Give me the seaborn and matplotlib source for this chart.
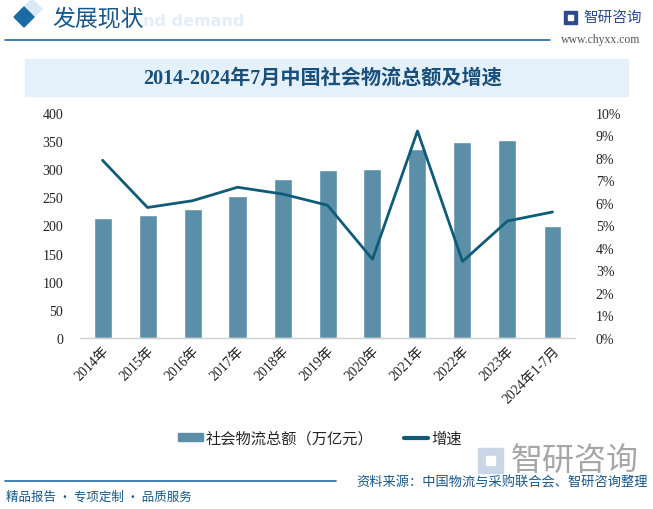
import numpy as np
import pandas as pd
import matplotlib
matplotlib.use("Agg")
import matplotlib.pyplot as plt
import matplotlib.patches as mpatches
from matplotlib.lines import Line2D
from matplotlib.ticker import FixedLocator, PercentFormatter
import seaborn as sns

# ---- data ----
categories = ["2014年", "2015年", "2016年", "2017年", "2018年", "2019年",
              "2020年", "2021年", "2022年", "2023年", "2024年1-7月"]
total_amount = [213.5, 219.2, 229.7, 252.8, 283.1, 298.0, 300.1, 335.2, 347.6, 352.4, 199.0]
growth_rate = [7.9, 5.8, 6.1, 6.7, 6.4, 5.9, 3.5, 9.2, 3.4, 5.2, 5.6]
left_ticks = [0, 50, 100, 150, 200, 250, 300, 350, 400]
right_ticks = [0, 1, 2, 3, 4, 5, 6, 7, 8, 9, 10]

title = "2014-2024年7月中国社会物流总额及增速"
bar_label = "社会物流总额（万亿元）"
line_label = "增速"

df = pd.DataFrame({"cat": categories, "amount": total_amount, "growth": growth_rate})

sns.set_theme(style="white")
CJK = ["Noto Sans CJK SC", "DejaVu Sans"]
SERIF = ["Liberation Serif", "Noto Sans CJK SC"]
plt.rcParams["font.family"] = CJK
plt.rcParams["axes.unicode_minus"] = False

BAR_C = "#5b8fa8"
LINE_C = "#0f5b78"

W, H = 653, 510
fig = plt.figure(figsize=(W / 100, H / 100), dpi=100)
fig.patch.set_facecolor("white")

def fx(px):
    return px / W

def fy(py):
    return 1 - py / H

# ---- header ----
fig.patches.append(mpatches.Polygon([[fx(14), fy(18)], [fx(24), fy(8)], [fx(34), fy(18)], [fx(24), fy(28)]],
                                    closed=True, transform=fig.transFigure, color="#1a6aa6", zorder=5))
fig.patches.append(mpatches.Polygon([[fx(24), fy(8)], [fx(34), fy(18)], [fx(42), fy(10)], [fx(32), fy(0)]],
                                    closed=True, transform=fig.transFigure, color="#dbe9f5", zorder=4))
fig.text(fx(143), fy(22), "nd demand", fontsize=11.5, color="#e3eef8", fontweight="bold",
         family="DejaVu Sans", va="center", ha="left", zorder=3)
fig.text(fx(52), fy(19), "发展现状", fontsize=16.5, color="#17578a", va="center", ha="left", zorder=6)
fig.add_artist(Line2D([fx(5), fx(550)], [fy(41), fy(41)], color="#1a6aa6", lw=1.2, transform=fig.transFigure))
# logo
fig.patches.append(mpatches.Rectangle((fx(564), fy(25)), fx(13), 13 / H, transform=fig.transFigure,
                                      color="#2b4a8c", zorder=5))
fig.patches.append(mpatches.Rectangle((fx(568), fy(21)), fx(5), 5 / H, transform=fig.transFigure,
                                      color="white", zorder=6))
fig.text(fx(583), fy(18), "智研咨询", fontsize=10.5, color="#2b4a8c", va="center", ha="left")
fig.text(fx(640), fy(40), "www.chyxx.com", fontsize=8.5, color="#555555", va="center", ha="right",
         family=["Liberation Serif"])

# ---- title box ----
fig.patches.append(mpatches.Rectangle((fx(25), fy(97)), fx(603), 37 / H, transform=fig.transFigure,
                                      color="#e4f1fa", zorder=0))
fig.text(fx(322), fy(79), title, fontsize=14.5, color="#1a4f7a", fontweight="bold",
         va="center", ha="center", family=SERIF)

# ---- axes ----
ax = fig.add_axes([fx(80), fy(339), fx(575) - fx(80), (339 - 114) / H])
ax.set_facecolor("none")
sns.barplot(data=df, x="cat", y="amount", color=BAR_C, width=0.4, ax=ax, saturation=1, zorder=2)
ax.set_ylim(0, 400)
ax.set_xlim(-0.5, len(categories) - 0.5)
ax.yaxis.set_major_locator(FixedLocator(left_ticks))
ax.set_xlabel("")
ax.set_ylabel("")
for s in ["top", "right", "left"]:
    ax.spines[s].set_visible(False)
ax.spines["bottom"].set_color("#d0d0d0")
ax.spines["bottom"].set_linewidth(1)
ax.tick_params(axis="y", length=0, pad=12, labelsize=10, labelcolor="#222222")
ax.tick_params(axis="x", which="major", length=0, pad=4)
ax.set_xticks(np.arange(-0.5, len(categories), 1), minor=True)
ax.tick_params(axis="x", which="minor", length=5, color="#d0d0d0", width=1)
for lab in ax.get_yticklabels():
    lab.set_family(SERIF)
ax.set_xticks(range(len(categories)))
ax.set_xticklabels(categories, rotation=45, ha="right", rotation_mode="anchor",
                   fontsize=10, color="#222222", family=SERIF)

ax2 = ax.twinx()
sns.lineplot(data=df, x="cat", y="growth", sort=False, color=LINE_C, linewidth=2.0, ax=ax2, zorder=3)
ax2.set_ylim(0, 10)
ax2.set_xlim(-0.5, len(categories) - 0.5)
ax2.yaxis.set_major_locator(FixedLocator(right_ticks))
ax2.yaxis.set_major_formatter(PercentFormatter(decimals=0))
ax2.set_ylabel("")
ax2.set_xlabel("")
for s in ["top", "right", "left", "bottom"]:
    ax2.spines[s].set_visible(False)
ax2.tick_params(axis="y", length=0, pad=15, labelsize=10, labelcolor="#222222")
for lab in ax2.get_yticklabels():
    lab.set_family(SERIF)

# ---- legend ----
handles = [mpatches.Patch(color=BAR_C, label=bar_label),
           Line2D([0], [0], color=LINE_C, lw=3, label=line_label)]
fig.legend(handles=handles, loc="center", bbox_to_anchor=(fx(320), fy(439)), ncol=2, frameon=False,
           fontsize=11, handlelength=1.6, handleheight=0.5, handletextpad=0.2, columnspacing=2.0)

# ---- footer ----
fig.text(fx(575), fy(461), "智研咨询", fontsize=23, color="#a6a6a6", va="center", ha="center")
fig.patches.append(mpatches.Rectangle((fx(478), fy(474)), fx(25), 25 / H, transform=fig.transFigure,
                                      color="#c9d6e6", zorder=1))
fig.patches.append(mpatches.Rectangle((fx(486), fy(466)), fx(9), 9 / H, transform=fig.transFigure,
                                      color="white", zorder=2))
fig.add_artist(Line2D([fx(5), fx(336)], [fy(482), fy(482)], color="#1a6aa6", lw=1.2, transform=fig.transFigure))
fig.text(fx(6), fy(497), "精品报告 · 专项定制 · 品质服务", fontsize=9, color="#17578a", va="center", ha="left")
fig.text(fx(648), fy(483), "资料来源：中国物流与采购联合会、智研咨询整理", fontsize=9.5, color="#17578a",
         va="center", ha="right")

fig.savefig("out.png", dpi=100, facecolor="white")
